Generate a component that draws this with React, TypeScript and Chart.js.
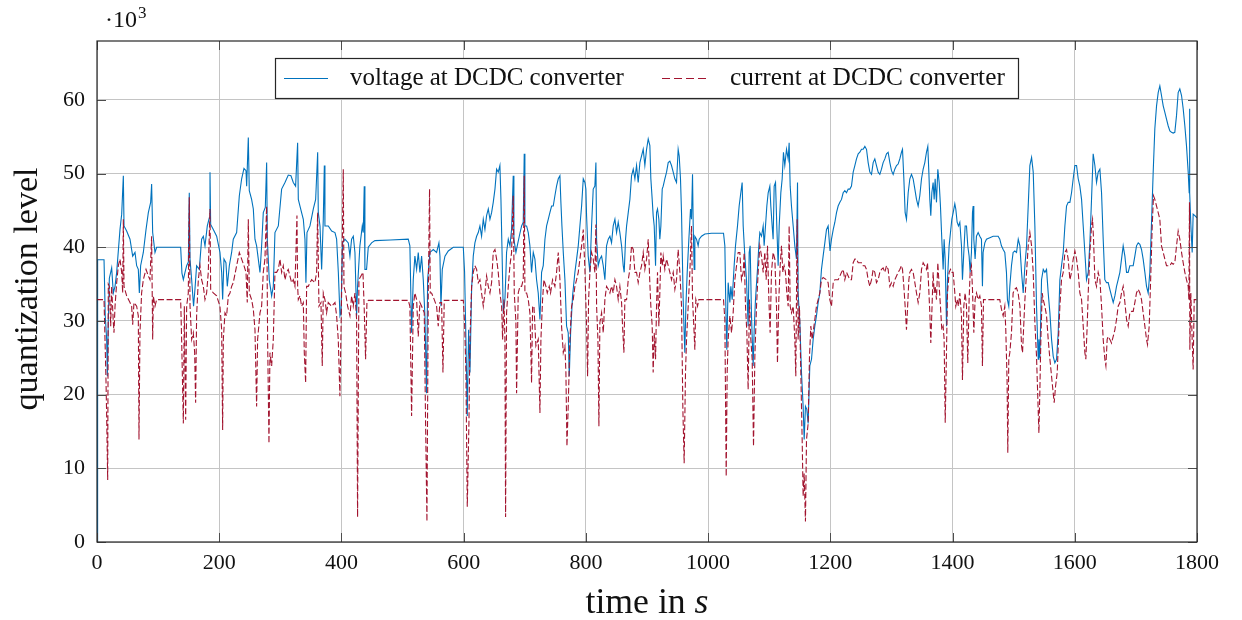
import React, { useEffect, useRef } from 'react';
import { Chart, registerables } from 'chart.js';

Chart.register(...registerables);

// time in s (voltage samples)
const voltageTime = [
  0, 1, 11.5, 13.5, 15.8, 16.9, 18.5, 20.2, 24, 26.7, 29.5, 32.2, 37.6, 40.4, 43.1, 44.2, 48.5, 54, 58.4, 62.2,
  64.9, 67.6, 69.3, 71.4, 75.8, 80.2, 84, 87.8, 89.4, 91.1, 94.9, 97.6, 136.9, 139, 141.3, 144, 146.7, 149.5, 151, 152.2,
  154.9, 158, 160.3, 163, 167.4, 171.2, 174, 176.7, 180.5, 183.8, 184.9, 186, 190.3, 195.8, 201.2, 204, 205.6, 207.8, 211, 213.2,
  216.5, 220.3, 223, 228.5, 232.9, 236.7, 240.5, 243.8, 244.9, 247.6, 249.2, 253, 255.8, 258.5, 261.2, 266.7, 269.4, 272.1, 275.4, 277.6,
  278.7, 281.9, 285.8, 288.5, 291.2, 296.7, 302.1, 307.6, 313, 317.4, 321.2, 325, 328.3, 329.4, 334.8, 337.6, 340.3, 341.9, 343.6, 348.5,
  354, 357.8, 361.1, 362.1, 364.9, 367.6, 370.3, 372, 373, 378.5, 384, 389.4, 392.1, 394.9, 397.6, 399.2, 401.9, 405.7, 411.2, 413.9,
  416.6, 419.4, 422.1, 424.8, 426.4, 430.2, 434.1, 435.7, 437.3, 438.4, 441.1, 443.9, 449.3, 454.8, 480, 509.3, 512, 514.8, 517.5, 520.2,
  523, 525.7, 528.4, 531.2, 533.9, 536.6, 539.3, 541, 544.8, 550.3, 555.7, 559.5, 561.2, 562.8, 565, 569.4, 574.8, 583, 599.4, 601.5,
  603.7, 605.9, 608.1, 610.3, 613, 615.7, 618.4, 621.2, 623.9, 626.6, 629.3, 632.1, 634.8, 637.5, 640.3, 643, 645.7, 648.4, 651.2, 653.9,
  656.6, 659.3, 661, 662.6, 664.8, 667.5, 669.2, 670.2, 673, 675.7, 678.4, 681.1, 682.2, 685.5, 687.7, 691, 694.8, 697.5, 699.1, 700.2,
  703, 705.7, 708.4, 711.1, 713.9, 716.6, 719.3, 722, 724.8, 727.5, 730.2, 733, 735.7, 738.4, 741.1, 743.9, 746.6, 749.3, 752, 754.8,
  757.5, 759.1, 760.8, 763, 765.7, 768.4, 771.1, 772.8, 775, 778.2, 782, 784.8, 787.5, 790.2, 793, 795.7, 798.4, 800, 801.1, 803.8,
  806.6, 809.3, 812, 814.7, 816.4, 817.5, 820.2, 822.9, 825.7, 828.4, 831.1, 833.8, 836.6, 839.3, 842, 844.7, 847.5, 850.2, 852.9, 855.6,
  858.4, 861.1, 862.7, 864.9, 866.6, 869.3, 872, 874.7, 877.5, 880.2, 882.9, 885.6, 888.4, 891.1, 893.8, 896.5, 899.3, 902, 904.7, 906.3,
  908.5, 910.1, 911.8, 914, 915.6, 917.2, 919.4, 921, 922.7, 924.9, 926.5, 929.2, 932, 934.7, 937.4, 940.1, 942.9, 945.6, 948.3, 951,
  952.7, 954.8, 956.5, 959.2, 960.8, 961.9, 963.6, 965.8, 968.5, 971.2, 972.8, 974.5, 975.6, 977.2, 978.3, 981, 983.7, 985.4, 989.2, 994.7,
  1005.6, 1025.2, 1027.4, 1029, 1030.6, 1032.8, 1035.6, 1037.2, 1039.4, 1042.6, 1044.8, 1048.1, 1050.8, 1053.5, 1055.7, 1057.4, 1060.1, 1062.8, 1065.5, 1067.2,
  1068.8, 1071, 1073.7, 1075.4, 1077.5, 1080.8, 1083, 1084.6, 1087.4, 1090.1, 1091.7, 1093.9, 1096.1, 1098.3, 1101, 1102.6, 1104.8, 1106.4, 1108.1, 1110.3,
  1112.4, 1114.6, 1116.3, 1119, 1121.2, 1123.3, 1125.5, 1128.3, 1131, 1132.6, 1134.3, 1136.4, 1139.2, 1141.9, 1144.6, 1146.3, 1147.3, 1150.1, 1152.8, 1155.5,
  1157.2, 1159.3, 1161.5, 1163.7, 1166.4, 1169.2, 1171.9, 1174.6, 1177.3, 1180.1, 1182.8, 1185.5, 1188.2, 1191, 1193.7, 1196.4, 1199.5, 1201.9, 1204.7, 1207.4,
  1210.1, 1212.8, 1215.6, 1218.3, 1221, 1223.7, 1226.5, 1229.2, 1231.9, 1234.6, 1237.4, 1240.1, 1242.8, 1245.6, 1248.3, 1251, 1253.7, 1256.5, 1259.2, 1261.9,
  1264.6, 1267.4, 1270.1, 1272.8, 1275.5, 1278.3, 1281, 1283.7, 1286.4, 1289.2, 1291.9, 1294.6, 1297.4, 1300.1, 1302.8, 1305.5, 1308.3, 1311, 1313.7, 1316.4,
  1318.1, 1320.3, 1322.4, 1324.6, 1327.4, 1330.1, 1332.8, 1335.5, 1338.3, 1341, 1343.7, 1346.4, 1349.2, 1351.9, 1354.6, 1357.3, 1359.5, 1361.2, 1362.8, 1364.4,
  1366.1, 1368.2, 1369.9, 1371.5, 1373.7, 1375.9, 1378.1, 1380.2, 1382.4, 1384.6, 1386.2, 1387.9, 1390.1, 1391.7, 1394.4, 1396.6, 1398.8, 1401, 1403.7, 1405.3,
  1407.5, 1409.7, 1411.9, 1414.6, 1416.2, 1418.4, 1420.6, 1422.8, 1424.9, 1427.1, 1428.8, 1430.9, 1432.6, 1433.7, 1434.8, 1436.9, 1439.1, 1441.9, 1444.6, 1447.3,
  1448.9, 1450, 1452.8, 1455.5, 1461, 1466.4, 1474.6, 1477.3, 1480, 1482.8, 1485.5, 1488.2, 1489.8, 1492, 1493.7, 1496.4, 1499.1, 1501.8, 1504.7, 1507.5,
  1510.2, 1512.9, 1515.6, 1518.4, 1521.1, 1523.8, 1526.5, 1529.3, 1532, 1534.7, 1537.4, 1540.2, 1541.3, 1542.9, 1545.6, 1548.4, 1551.1, 1553.8, 1556.5, 1559.3,
  1562, 1564.7, 1567.4, 1570.2, 1572.9, 1575.6, 1578.3, 1581.1, 1583.8, 1586.5, 1589.2, 1592, 1594.7, 1597.4, 1600.2, 1602.9, 1605.6, 1608.3, 1611.1, 1613.8,
  1616.5, 1619.2, 1622, 1624.7, 1627.4, 1630.1, 1632.9, 1635.6, 1638.3, 1641.1, 1643.8, 1646.5, 1649.2, 1652, 1654.7, 1657.4, 1660.1, 1662.9, 1665.6, 1668.3,
  1671, 1673.8, 1676.5, 1679.2, 1682, 1684.7, 1687.4, 1690.1, 1692.9, 1695.6, 1698.3, 1701, 1703.8, 1706.5, 1709.2, 1711.9, 1714.7, 1717.4, 1720.1, 1722.8,
  1725.6, 1728.3, 1731, 1733.8, 1736.5, 1739.2, 1741.9, 1744.7, 1747.4, 1750.1, 1752.8, 1755.6, 1758.3, 1761, 1763.7, 1766.5, 1769.2, 1771.9, 1774.7, 1777.4,
  1780.1, 1782.8, 1785.6, 1787.2, 1787.7, 1788.3, 1789.9, 1792.1, 1793.7, 1796.5, 1800,
];

// voltage quantization level, in thousands
const voltageLevel = [
  0, 38.3, 38.3, 30.7, 27.5, 22.5, 30.0, 35.8, 37.2, 33.8, 34.7, 36.6, 42.4, 44.5, 49.7, 42.9, 42.2, 41.1, 38.8, 39.3,
  37.5, 37.0, 33.8, 37.5, 39.3, 42.4, 44.7, 46.1, 48.6, 42.0, 39.3, 40.0, 40.0, 36.5, 35.6, 36.6, 37.5, 38.0, 47.4, 38.4,
  35.6, 32.0, 34.3, 37.5, 37.0, 41.1, 41.5, 40.2, 42.9, 44.0, 50.2, 43.1, 42.4, 41.5, 39.3, 36.6, 32.9, 38.4, 37.9, 34.7,
  37.5, 39.3, 41.1, 42.0, 47.0, 49.3, 50.7, 50.4, 48.3, 54.9, 47.7, 46.5, 45.2, 41.1, 40.2, 36.6, 40.2, 44.7, 45.4, 51.5,
  41.1, 35.6, 33.4, 34.7, 42.0, 42.9, 47.9, 48.8, 49.8, 49.7, 48.8, 48.3, 54.2, 46.5, 44.7, 43.8, 41.1, 35.2, 42.0, 42.9,
  45.2, 46.5, 52.9, 44.7, 42.9, 37.0, 43.8, 51.1, 42.9, 42.9, 42.2, 42.0, 41.1, 36.6, 30.7, 31.1, 40.6, 41.1, 40.6, 38.8,
  41.1, 41.5, 39.3, 30.7, 34.7, 40.2, 42.9, 42.0, 48.3, 37.0, 37.0, 40.0, 40.6, 40.9, 41.0, 41.1, 40.2, 28.4, 35.6, 38.8,
  37.0, 39.3, 36.6, 38.8, 35.6, 30.7, 20.2, 35.6, 39.3, 39.7, 39.3, 40.6, 38.8, 32.0, 37.0, 38.8, 39.5, 40.0, 40.0, 36.6,
  27.5, 17.1, 28.8, 23.0, 34.3, 38.8, 40.6, 41.5, 42.0, 42.9, 41.5, 43.8, 42.4, 44.3, 45.2, 43.8, 44.7, 46.1, 47.9, 50.6,
  50.2, 51.1, 46.5, 40.2, 31.1, 32.9, 36.6, 39.3, 41.1, 40.2, 42.4, 49.7, 41.1, 39.3, 40.2, 41.5, 42.9, 43.4, 52.7, 42.9,
  42.9, 42.0, 40.2, 36.6, 39.3, 38.4, 35.6, 33.8, 30.2, 36.6, 37.5, 41.1, 42.9, 43.8, 44.7, 45.6, 45.6, 47.0, 48.3, 49.3,
  49.7, 46.1, 42.9, 39.3, 35.6, 29.3, 28.4, 22.5, 28.4, 33.4, 36.6, 38.4, 40.2, 42.9, 45.6, 49.3, 48.8, 47.9, 44.3, 38.8,
  36.6, 42.9, 47.9, 48.3, 51.5, 41.1, 37.5, 38.4, 38.8, 37.5, 35.6, 40.2, 41.1, 41.5, 40.6, 42.9, 43.8, 42.0, 43.4, 42.0,
  40.2, 37.5, 36.6, 41.1, 42.9, 44.7, 46.5, 49.7, 50.6, 49.3, 51.1, 48.8, 51.5, 52.4, 53.3, 51.1, 53.3, 54.7, 53.8, 49.3,
  46.5, 44.3, 42.9, 37.5, 44.7, 45.2, 43.8, 41.1, 42.9, 47.9, 48.3, 49.3, 50.2, 51.5, 51.7, 51.1, 50.2, 49.3, 48.8, 53.3,
  52.4, 49.3, 44.7, 32.9, 28.4, 25.7, 32.0, 36.6, 41.1, 45.2, 43.8, 49.9, 42.9, 37.0, 41.5, 41.1, 40.2, 41.1, 41.5, 41.8,
  41.9, 41.9, 40.2, 32.0, 26.1, 35.2, 32.5, 34.7, 32.9, 37.5, 40.2, 42.9, 45.6, 47.4, 48.8, 42.9, 38.8, 35.6, 29.3, 39.3,
  40.2, 30.7, 23.9, 28.8, 32.9, 37.0, 40.2, 42.0, 41.5, 42.9, 40.2, 42.9, 45.6, 47.4, 48.3, 45.6, 42.9, 41.1, 48.3, 48.8,
  42.9, 37.5, 42.9, 47.4, 49.3, 52.9, 51.1, 53.3, 52.0, 54.2, 48.3, 45.6, 42.9, 40.2, 38.4, 48.8, 33.8, 29.8, 23.0, 18.4,
  13.9, 18.4, 18.0, 16.1, 23.9, 24.8, 27.5, 29.3, 30.7, 32.5, 33.8, 37.0, 38.8, 40.6, 42.4, 42.9, 39.5, 41.1, 42.4, 43.4,
  44.7, 45.6, 46.1, 46.5, 47.4, 47.7, 47.4, 47.9, 47.9, 48.3, 50.2, 51.1, 52.0, 52.7, 52.9, 53.3, 53.3, 53.7, 53.3, 51.5,
  50.2, 49.9, 51.5, 52.0, 51.1, 50.2, 49.9, 50.6, 51.5, 52.0, 52.7, 52.9, 51.5, 50.4, 49.9, 50.6, 51.1, 51.3, 52.0, 52.9,
  53.3, 49.3, 44.7, 43.8, 47.4, 49.3, 49.9, 49.3, 47.9, 46.5, 45.6, 47.0, 49.3, 50.6, 51.5, 52.9, 53.7, 50.2, 46.5, 44.3,
  47.4, 48.8, 46.5, 49.3, 46.1, 50.6, 48.8, 45.6, 41.1, 37.0, 41.1, 38.4, 29.3, 35.6, 40.2, 42.0, 43.8, 44.7, 45.9, 45.2,
  43.4, 42.9, 43.4, 40.2, 35.6, 39.3, 42.9, 42.9, 40.2, 38.8, 36.6, 39.3, 44.7, 45.6, 41.1, 38.4, 41.5, 42.0, 41.5, 41.1,
  34.7, 39.3, 40.6, 41.1, 41.3, 41.5, 41.5, 41.1, 40.2, 39.7, 39.3, 36.6, 32.9, 32.0, 34.7, 37.5, 39.3, 39.5, 39.3, 41.1,
  40.2, 36.6, 33.8, 37.5, 40.2, 45.6, 51.1, 52.2, 50.2, 42.9, 32.0, 24.8, 27.5, 25.0, 35.6, 37.0, 36.6, 37.0, 33.8, 31.1,
  27.5, 25.2, 24.3, 24.8, 28.4, 35.6, 37.5, 39.3, 42.9, 45.6, 46.1, 46.1, 47.4, 49.3, 51.1, 51.1, 49.3, 48.3, 46.5, 42.9,
  39.3, 35.6, 36.6, 40.6, 46.5, 52.7, 51.1, 48.8, 50.2, 50.6, 47.4, 41.1, 35.6, 35.2, 35.2, 34.3, 33.4, 32.5, 33.4, 34.7,
  35.6, 36.6, 38.4, 40.2, 38.8, 36.6, 36.6, 37.5, 37.5, 37.5, 38.8, 40.2, 40.6, 40.4, 39.7, 38.4, 36.6, 34.7, 33.8, 36.6,
  43.4, 50.2, 56.1, 59.2, 61.0, 61.9, 60.6, 59.2, 58.3, 57.4, 56.5, 55.8, 55.6, 55.5, 55.6, 57.9, 61.0, 61.5, 60.6, 58.8,
  56.5, 53.8, 50.2, 47.4, 58.8, 47.4, 43.1, 39.3, 44.5, 44.3, 44.0,
];

// time in s (current samples)
const currentTime = [
  0, 11.5, 13.1, 14.7, 15.8, 17.5, 18.5, 20.2, 22.4, 24, 26.7, 27.8, 29.5, 32.2, 34.9, 37.6, 40.4, 42, 43.1, 44.2,
  48.5, 54, 56.7, 58.4, 60.5, 64.9, 67.6, 68.7, 70.3, 73, 75.8, 80.2, 84, 86.7, 89.4, 91.1, 92.2, 94.9, 97.6, 136.9,
  138.5, 141.3, 142.9, 145.1, 146.7, 149.4, 151, 152.2, 154.9, 157.6, 159.8, 161.4, 163, 165.8, 168.5, 171.2, 174, 176.7, 179.4, 182.1,
  184.9, 186, 190.3, 195.8, 201.2, 204, 205.6, 206.7, 209.4, 212.1, 214.9, 217.6, 220.3, 223, 228.5, 232.9, 236.7, 240.5, 243.8, 245.9,
  247.6, 249.2, 253, 255.8, 258.5, 261.2, 262.8, 266.7, 269.4, 272.1, 274.8, 277.6, 279.2, 281.4, 283, 285.8, 288.5, 291.2, 293.9, 296.7,
  299.4, 302.1, 304.8, 307.6, 310.3, 313, 315.7, 318.5, 321.2, 323.9, 327.2, 328.3, 329.4, 332.1, 334.8, 337.6, 339.2, 341.4, 343, 345.7,
  351.2, 356.6, 359.4, 361, 363.2, 366.5, 368.6, 370.3, 373, 375.7, 378.4, 383.9, 389.4, 392.1, 394.8, 397.5, 400.3, 403, 404.1, 406.8,
  410.1, 413.9, 416.6, 419.3, 422.1, 424.8, 426.4, 428.6, 431.9, 435.2, 437.3, 439.5, 441.7, 443.9, 509.3, 512, 514.8, 517.5, 520.2, 523,
  525.7, 528.4, 531.2, 535.5, 537.7, 539.9, 542.1, 544.2, 545.3, 547.5, 551.9, 555.7, 558.4, 561.1, 563.9, 566.1, 568.2, 599.4, 601.5, 603.7,
  605.9, 607, 608.6, 610.3, 613, 615.7, 618.4, 621.2, 623.9, 626.6, 629.3, 632.1, 634.8, 637.5, 640.3, 643, 645.7, 648.4, 651.2, 653.9,
  656.6, 659.3, 662.1, 663.7, 665.9, 667.5, 668.6, 670.2, 673, 675.7, 678.4, 681.1, 682.8, 685.5, 686.6, 689.3, 692.1, 694.8, 697.5, 699.1,
  700.2, 703, 705.7, 708.4, 711.1, 712.8, 715, 718.2, 722, 724.8, 726.4, 729.1, 731.3, 734.6, 736.8, 740, 742.2, 745.5, 749.3, 752,
  754.8, 757.5, 760.2, 763, 765.7, 767.3, 769, 771.1, 773.8, 776.6, 779.3, 782, 784.8, 787.5, 790.2, 793, 795.7, 798.4, 801.1, 802.8,
  804.4, 806.6, 809.3, 812, 814.7, 816.4, 817.5, 819.7, 821.3, 822.9, 825.7, 828.4, 831.1, 833.8, 836.6, 839.3, 842, 844.7, 847.5, 850.2,
  852.9, 855.6, 858.4, 860, 862.2, 863.8, 866.6, 869.3, 872, 874.7, 877.5, 880.2, 882.9, 885.6, 888.4, 891.1, 893.8, 896.5, 899.3, 902,
  904.7, 906.3, 908.5, 910.1, 911.8, 914, 915.6, 917.2, 919.4, 921, 922.7, 924.9, 926.5, 929.2, 932, 934.7, 937.4, 940.1, 942.9, 945.6,
  948.3, 951, 953.8, 956.5, 958.7, 960.8, 963, 964.7, 967.4, 970.1, 972.8, 974.5, 976.1, 978.3, 979.9, 982.7, 984.8, 1025.2, 1027.4, 1029.6,
  1031.2, 1032.8, 1035.6, 1038.3, 1041, 1043.7, 1046.5, 1049.2, 1051.9, 1054.6, 1057.4, 1059, 1061.2, 1063.4, 1065.5, 1067.7, 1069.9, 1072.1, 1074.3, 1076.5,
  1079.2, 1081.9, 1084.6, 1087.4, 1090.1, 1092.8, 1095, 1097.2, 1099.4, 1101.5, 1103.7, 1106.4, 1109.2, 1111.9, 1113.5, 1115.7, 1117.9, 1120.1, 1122.3, 1124.4,
  1126.6, 1128.8, 1131, 1132.6, 1134.3, 1136.4, 1139.2, 1141.9, 1143.5, 1145.7, 1147.3, 1149.5, 1151.7, 1153.9, 1155.5, 1157.2, 1159.3, 1161, 1163.7, 1165.9,
  1168.1, 1170.2, 1172.4, 1174.6, 1177.3, 1180.1, 1182.8, 1185.5, 1188.2, 1193.7, 1196.4, 1199.1, 1201.9, 1204.7, 1207.4, 1210.1, 1212.8, 1215.6, 1218.3, 1221,
  1223.7, 1226.5, 1229.2, 1231.9, 1234.6, 1237.4, 1240.1, 1242.8, 1245.6, 1248.3, 1251, 1253.7, 1256.5, 1259.2, 1261.9, 1264.6, 1267.4, 1270.1, 1272.8, 1275.5,
  1278.3, 1281, 1283.7, 1286.4, 1289.2, 1291.9, 1294.6, 1297.4, 1300.1, 1302.8, 1305.5, 1308.3, 1311, 1313.7, 1316.4, 1318.1, 1320.3, 1322.4, 1324.6, 1326.5,
  1328.5, 1330.1, 1332.8, 1335.5, 1338.3, 1341, 1343.7, 1346.4, 1349.2, 1351.9, 1354.6, 1357.3, 1359, 1360.6, 1362.8, 1364.4, 1366.1, 1368.2, 1369.9, 1371.5,
  1373.7, 1375.9, 1378.1, 1380.2, 1382.4, 1384.6, 1386.2, 1388, 1390, 1391.7, 1394.4, 1396.6, 1398.8, 1401, 1403.7, 1405.3, 1407.5, 1409.7, 1411.9, 1414.6,
  1416.2, 1418.4, 1420.6, 1422.8, 1424.9, 1427.1, 1428.8, 1430.9, 1432.6, 1434.8, 1436.9, 1439.1, 1441.9, 1444.6, 1447.3, 1448.9, 1450.6, 1455.5, 1477.3, 1480,
  1482.8, 1485.5, 1487.1, 1489.2, 1490.4, 1492, 1493.7, 1496.4, 1499.1, 1501.8, 1504.6, 1507.3, 1510.2, 1512.9, 1514.5, 1516.7, 1518.4, 1521.1, 1523.8, 1526.5,
  1529.3, 1532, 1534.7, 1537.4, 1539.1, 1541.3, 1542.9, 1544.5, 1546.7, 1548.4, 1551.1, 1553.8, 1556.5, 1559.3, 1562, 1564.7, 1566.3, 1568.5, 1571.3, 1572.9,
  1575.6, 1578.3, 1581.1, 1583.8, 1586.5, 1589.2, 1592, 1594.7, 1597.4, 1600.2, 1602.9, 1605.6, 1608.3, 1611.1, 1613.8, 1616.5, 1618.1, 1620.3, 1622, 1624.7,
  1627.4, 1629.1, 1630.7, 1632.9, 1635.6, 1638.3, 1641.1, 1643.8, 1646.5, 1649.2, 1650.9, 1653, 1654.7, 1657.4, 1660.1, 1662.9, 1665.6, 1668.3, 1671, 1673.8,
  1676.5, 1679.2, 1682, 1684.7, 1687.4, 1690.1, 1692.9, 1695.6, 1698.3, 1701, 1703.8, 1706.5, 1709.2, 1711.9, 1714.7, 1717.4, 1719, 1721.8, 1724.5, 1726.7,
  1728.8, 1731, 1733.8, 1736.5, 1739.2, 1741.9, 1744.7, 1747.4, 1750.1, 1752.8, 1755.6, 1758.3, 1761, 1763.7, 1766.5, 1769.2, 1771.9, 1774.7, 1777.4, 1780.1,
  1782.8, 1785.6, 1786.7, 1787.7, 1788.3, 1789.9, 1792.1, 1793.7, 1795.4, 1800,
];

// current quantization level, in thousands
const currentLevel = [
  32.9, 32.9, 27.5, 22.0, 17.1, 8.4, 35.0, 34.7, 29.3, 34.7, 29.8, 28.4, 32.0, 35.2, 37.5, 38.4, 36.6, 33.8, 43.8, 34.7,
  33.4, 32.5, 32.0, 29.5, 32.5, 32.0, 30.7, 13.9, 28.4, 33.8, 35.6, 37.0, 36.1, 35.6, 41.5, 27.5, 33.4, 32.0, 32.9, 32.9,
  27.5, 16.1, 32.0, 16.6, 32.0, 33.8, 46.8, 32.0, 27.5, 28.4, 25.7, 18.9, 30.7, 35.6, 37.5, 35.6, 34.7, 32.9, 33.8, 36.6,
  45.2, 34.3, 33.8, 33.4, 32.0, 28.8, 15.2, 27.5, 31.1, 30.7, 33.4, 33.8, 34.7, 35.2, 37.5, 39.3, 38.4, 37.5, 36.6, 32.5,
  43.8, 33.8, 32.9, 31.6, 28.8, 18.4, 27.5, 31.1, 32.0, 36.6, 38.4, 45.6, 27.5, 13.4, 25.7, 23.9, 27.5, 36.6, 36.6, 37.0,
  38.4, 36.6, 37.5, 35.6, 36.6, 37.0, 36.1, 35.2, 35.6, 34.7, 44.3, 34.7, 32.9, 33.4, 32.0, 32.5, 25.7, 21.6, 34.7, 34.7,
  35.6, 35.2, 36.6, 44.7, 32.0, 32.5, 23.9, 33.8, 32.9, 31.1, 32.5, 32.0, 32.5, 30.7, 27.5, 19.8, 33.8, 50.6, 34.7, 33.8,
  32.0, 30.7, 33.4, 32.0, 33.8, 30.2, 3.4, 35.6, 36.1, 36.6, 31.6, 24.8, 32.5, 32.8, 32.8, 32.0, 17.1, 32.0, 33.8, 32.9,
  27.9, 32.5, 32.0, 31.1, 16.1, 2.8, 33.8, 47.9, 33.8, 33.8, 32.9, 32.0, 29.3, 32.5, 32.5, 23.0, 32.8, 32.8, 29.8, 23.0,
  4.8, 9.3, 16.1, 27.5, 34.7, 36.6, 37.5, 37.0, 35.2, 35.6, 33.8, 32.0, 33.8, 36.1, 34.7, 33.8, 35.2, 39.3, 39.7, 38.4,
  36.6, 33.8, 32.0, 27.5, 32.9, 27.5, 3.4, 31.1, 34.7, 37.5, 39.3, 47.0, 33.8, 29.8, 20.2, 33.8, 34.7, 34.7, 35.6, 49.7,
  33.8, 33.8, 32.9, 31.1, 21.6, 32.0, 32.0, 26.6, 27.5, 17.5, 27.5, 32.9, 35.6, 34.7, 33.8, 34.7, 33.8, 35.6, 34.7, 36.6,
  39.3, 35.6, 29.3, 25.7, 26.6, 23.0, 13.0, 18.4, 27.5, 32.0, 32.9, 34.7, 35.6, 36.6, 38.4, 40.2, 42.4, 37.0, 29.3, 22.5,
  32.9, 36.6, 39.3, 38.4, 36.6, 43.1, 32.0, 27.5, 15.7, 29.8, 31.1, 28.4, 32.9, 34.7, 34.3, 33.8, 34.7, 33.8, 35.6, 34.7,
  32.9, 34.7, 32.5, 29.3, 25.7, 32.9, 32.9, 35.6, 37.0, 40.2, 39.7, 36.6, 36.6, 35.2, 36.6, 37.5, 39.3, 37.0, 38.4, 41.1,
  35.0, 32.0, 29.3, 23.0, 28.4, 24.8, 32.0, 36.6, 29.3, 33.8, 39.3, 37.5, 38.8, 37.0, 38.4, 37.5, 36.6, 35.6, 36.6, 34.3,
  35.6, 39.7, 36.6, 32.0, 18.0, 10.7, 23.0, 27.5, 32.0, 36.6, 42.9, 32.9, 30.2, 26.1, 32.9, 32.0, 32.9, 32.9, 30.2, 8.9,
  23.0, 27.5, 30.7, 28.4, 31.1, 35.6, 37.5, 39.3, 39.3, 35.6, 36.6, 39.3, 32.0, 28.4, 20.7, 32.9, 27.5, 24.8, 13.0, 25.2,
  32.0, 36.6, 40.2, 38.8, 36.6, 39.3, 35.6, 40.2, 32.9, 28.4, 36.6, 39.3, 38.4, 32.0, 24.3, 32.9, 37.5, 40.2, 36.6, 37.5,
  36.6, 33.8, 32.0, 42.9, 32.0, 31.1, 32.0, 27.5, 22.5, 43.8, 27.5, 32.0, 23.0, 13.9, 6.2, 9.3, 2.8, 13.9, 16.1, 25.2,
  29.3, 27.5, 28.8, 30.2, 32.0, 32.9, 33.8, 35.6, 35.9, 35.6, 35.2, 32.9, 32.0, 35.2, 35.6, 35.6, 35.6, 36.1, 36.6, 37.0,
  35.6, 36.6, 36.1, 35.6, 35.6, 37.9, 38.4, 38.4, 37.9, 37.9, 37.9, 37.5, 37.5, 37.0, 35.6, 34.7, 35.6, 37.0, 36.6, 35.2,
  35.6, 36.6, 37.0, 37.2, 36.6, 37.5, 37.0, 34.7, 35.2, 34.7, 35.6, 36.1, 36.6, 37.0, 37.5, 37.0, 34.7, 32.0, 28.8, 32.0,
  35.6, 36.6, 37.0, 36.6, 35.2, 33.8, 32.5, 33.8, 37.0, 37.9, 37.5, 37.0, 37.9, 35.2, 31.1, 27.0, 31.1, 36.6, 33.8, 34.7,
  32.9, 37.9, 34.7, 32.0, 28.8, 29.3, 27.5, 16.2, 25.5, 33.8, 36.6, 37.0, 36.6, 36.6, 33.8, 32.0, 32.9, 32.0, 33.8, 30.7,
  22.0, 32.0, 33.8, 32.0, 24.3, 32.9, 36.6, 37.5, 34.3, 28.4, 32.9, 33.8, 32.9, 33.4, 32.0, 23.9, 32.9, 32.9, 32.9, 31.6,
  30.7, 32.0, 28.8, 22.0, 12.1, 24.8, 25.7, 28.4, 33.8, 34.3, 34.5, 33.8, 32.0, 26.6, 25.7, 29.8, 32.9, 36.6, 40.2, 42.0,
  40.2, 36.6, 29.8, 25.2, 20.7, 14.8, 20.7, 27.5, 33.8, 32.9, 32.0, 30.7, 27.5, 24.8, 22.5, 20.2, 18.9, 21.1, 23.0, 26.6,
  32.0, 35.6, 36.6, 39.3, 39.7, 38.4, 35.6, 36.6, 38.4, 39.5, 38.4, 36.6, 33.8, 32.9, 29.3, 25.7, 24.8, 29.3, 33.8, 39.3,
  42.9, 43.8, 41.1, 35.6, 34.7, 36.6, 35.6, 32.0, 27.5, 24.8, 23.9, 27.5, 27.9, 27.5, 27.0, 27.9, 28.8, 30.2, 32.0, 32.5,
  33.8, 34.7, 32.5, 30.2, 29.3, 31.1, 31.3, 31.3, 32.5, 33.8, 34.3, 33.8, 32.9, 31.1, 29.3, 27.5, 26.8, 29.3, 36.6, 42.9,
  47.0, 46.5, 45.6, 44.7, 43.8, 40.2, 39.3, 38.4, 37.5, 37.5, 37.5, 37.9, 37.7, 37.9, 40.2, 42.2, 41.1, 39.3, 37.9, 36.6,
  35.6, 34.7, 32.9, 46.1, 26.1, 33.8, 27.5, 23.4, 32.9, 32.9,
];

const xTickValues = [0, 200, 400, 600, 800, 1000, 1200, 1400, 1600, 1800];
const yTickValues = [0, 10, 20, 30, 40, 50, 60];
const seriesNames = ['voltage at DCDC converter', 'current at DCDC converter'];
const xTitleMain = 'time in ';
const xTitleUnit = 's';
const yTitle = 'quantization level';
const scaleNote = '·10';
const scaleExp = '3';

const BLUE = '#0072bd';
const RED = '#a2142f';
const SERIF = '"Liberation Serif", "DejaVu Serif", serif';

function fitFont(ctx: CanvasRenderingContext2D, text: string, target: number, italic = false) {
  ctx.font = `${italic ? 'italic ' : ''}20px ${SERIF}`;
  const w = ctx.measureText(text).width;
  return (20 * target) / w;
}

export default function App() {
  const ref = useRef<HTMLCanvasElement>(null);

  useEffect(() => {
    const canvas = ref.current;
    if (!canvas) return;

    const decor = {
      id: 'decor',
      afterDatasetsDraw(chart: any) {
        const ctx: CanvasRenderingContext2D = chart.ctx;
        const a = chart.chartArea;
        const xs = chart.scales.x;
        const ys = chart.scales.y;
        ctx.save();
        // inner tick marks
        ctx.strokeStyle = '#4d4d4d';
        ctx.lineWidth = 1;
        const tl = 9;
        ctx.beginPath();
        xTickValues.forEach((v) => {
          const px = Math.round(xs.getPixelForValue(v)) + 0.5;
          ctx.moveTo(px, a.bottom);
          ctx.lineTo(px, a.bottom - tl);
          ctx.moveTo(px, a.top);
          ctx.lineTo(px, a.top + tl);
        });
        yTickValues.forEach((v) => {
          const py = Math.round(ys.getPixelForValue(v)) + 0.5;
          ctx.moveTo(a.left, py);
          ctx.lineTo(a.left + tl, py);
          ctx.moveTo(a.right, py);
          ctx.lineTo(a.right - tl, py);
        });
        ctx.stroke();
        // frame
        ctx.strokeStyle = '#262626';
        ctx.lineWidth = 1.2;
        ctx.strokeRect(a.left, a.top, a.right - a.left, a.bottom - a.top);

        // legend
        const lx = 275.5, ly = 58.5, lw = 743, lh = 40;
        ctx.fillStyle = '#ffffff';
        ctx.fillRect(lx, ly, lw, lh);
        ctx.strokeStyle = '#262626';
        ctx.lineWidth = 1.2;
        ctx.strokeRect(lx, ly, lw, lh);
        const midY = 78.5;
        ctx.lineWidth = 1;
        ctx.strokeStyle = BLUE;
        ctx.beginPath();
        ctx.moveTo(284, midY);
        ctx.lineTo(328, midY);
        ctx.stroke();
        ctx.strokeStyle = RED;
        ctx.setLineDash([8, 4]);
        ctx.beginPath();
        ctx.moveTo(662, midY);
        ctx.lineTo(708, midY);
        ctx.stroke();
        ctx.setLineDash([]);
        ctx.fillStyle = '#111';
        ctx.textBaseline = 'alphabetic';
        ctx.textAlign = 'left';
        const ls = fitFont(ctx, seriesNames[0], 274);
        ctx.font = `${ls}px ${SERIF}`;
        ctx.fillText(seriesNames[0], 350, 85);
        const ls2 = fitFont(ctx, seriesNames[1], 275);
        ctx.font = `${ls2}px ${SERIF}`;
        ctx.fillText(seriesNames[1], 730, 85);

        // x title: "time in s"
        const full = xTitleMain + xTitleUnit;
        const xs2 = fitFont(ctx, full, 123);
        ctx.font = `${xs2}px ${SERIF}`;
        const w1 = ctx.measureText(xTitleMain).width;
        ctx.font = `italic ${xs2}px ${SERIF}`;
        const w2 = ctx.measureText(xTitleUnit).width;
        const cx = (a.left + a.right) / 2;
        const startX = cx - (w1 + w2) / 2;
        ctx.font = `${xs2}px ${SERIF}`;
        ctx.fillText(xTitleMain, startX, 613);
        ctx.font = `italic ${xs2}px ${SERIF}`;
        ctx.fillText(xTitleUnit, startX + w1, 613);

        // y title
        const ysz = fitFont(ctx, yTitle, 243);
        ctx.save();
        ctx.translate(37, 289);
        ctx.rotate(-Math.PI / 2);
        ctx.textAlign = 'center';
        ctx.font = `${ysz}px ${SERIF}`;
        ctx.fillText(yTitle, 0, 0);
        ctx.restore();

        // scale note ·10^3
        ctx.textAlign = 'left';
        ctx.font = `24px ${SERIF}`;
        ctx.fillText(scaleNote, 105, 27);
        const nw = ctx.measureText(scaleNote).width;
        ctx.font = `17px ${SERIF}`;
        ctx.fillText(scaleExp, 105 + nw + 1, 18);
        ctx.restore();
      },
    };

    const chart = new Chart(canvas, {
      type: 'line',
      data: {
        datasets: [
          {
            label: seriesNames[0],
            data: voltageTime.map((t, i) => ({ x: t, y: voltageLevel[i] })),
            borderColor: BLUE,
            backgroundColor: BLUE,
            borderWidth: 1.1,
            pointRadius: 0,
            fill: false,
            tension: 0,
            order: 1,
          },
          {
            label: seriesNames[1],
            data: currentTime.map((t, i) => ({ x: t, y: currentLevel[i] })),
            borderColor: RED,
            backgroundColor: RED,
            borderWidth: 1.1,
            borderDash: [6, 2.5],
            pointRadius: 0,
            fill: false,
            tension: 0,
            order: 0,
          },
        ],
      },
      options: {
        animation: false,
        responsive: true,
        maintainAspectRatio: false,
        layout: { padding: { left: 0, right: 45, top: 41, bottom: 0 } },
        plugins: { legend: { display: false }, tooltip: { enabled: false } },
        scales: {
          x: {
            type: 'linear',
            min: 0,
            max: 1800,
            afterBuildTicks: (s: any) => {
              s.ticks = xTickValues.map((v) => ({ value: v }));
            },
            afterFit: (s: any) => {
              s.height = 78;
            },
            grid: { color: '#c4c4c4', lineWidth: 1, drawTicks: false },
            border: { display: false },
            ticks: {
              autoSkip: false,
              maxRotation: 0,
              padding: 8,
              color: '#111',
              font: { family: SERIF, size: 22 },
              callback: (v: any) => String(v),
            },
          },
          y: {
            type: 'linear',
            min: 0,
            max: 68,
            afterBuildTicks: (s: any) => {
              s.ticks = yTickValues.map((v) => ({ value: v }));
            },
            afterFit: (s: any) => {
              s.width = 97;
            },
            grid: { color: '#c4c4c4', lineWidth: 1, drawTicks: false },
            border: { display: false },
            ticks: {
              autoSkip: false,
              padding: 12,
              color: '#111',
              font: { family: SERIF, size: 22 },
              callback: (v: any) => String(v),
            },
          },
        },
      },
      plugins: [decor],
    } as any);

    return () => chart.destroy();
  }, []);

  return (
    <div style={{ position: 'fixed', left: 0, top: 0, width: 1242, height: 620, background: '#ffffff' }}>
      <canvas ref={ref} />
    </div>
  );
}
